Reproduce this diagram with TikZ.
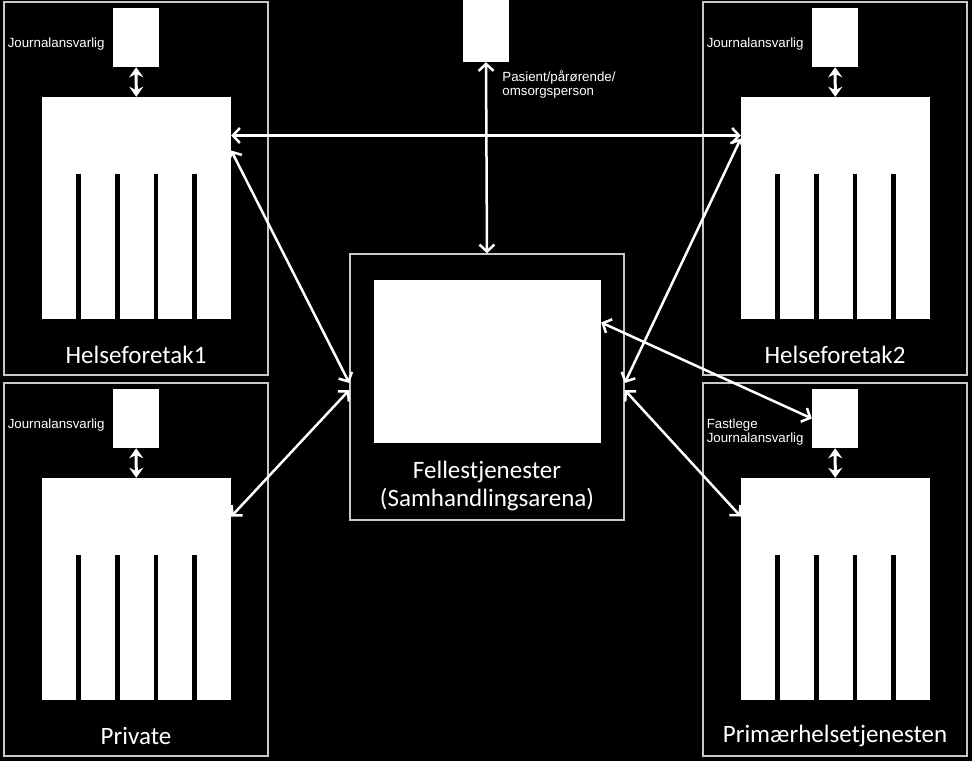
\documentclass[tikz,border=0pt]{standalone}
\usepackage{fontspec}
\setmainfont{Carlito}
\newfontfamily\arialfont{Liberation Sans}
\usetikzlibrary{arrows.meta, positioning}

\definecolor{rammegraa}{RGB}{200,200,200}

\tikzset{
  ramme/.style={draw=rammegraa, line width=1.5pt, inner sep=0pt},
  hvit/.style={fill=white, draw=none, inner sep=0pt},
  pil/.style={white, line width=2.5pt,
    {Straight Barb[length=7pt,width=15pt]}-{Straight Barb[length=7pt,width=15pt]}},
  kortpil/.style={white, line width=3pt,
    {Stealth[length=10pt,width=14pt]}-{Stealth[length=10pt,width=14pt]}},
  tittel/.style={text=white, inner sep=0pt, font=\fontsize{25}{28}\selectfont},
  liten/.style={text=white, inner sep=0pt, align=left, font=\arialfont\fontsize{13.3}{14}\selectfont}
}

% en journalenhet: ramme, journalansvarlig, journal med kolonner, navn
\newcommand{\journalenhet}[5]{%
\begin{scope}[shift={(#2,#3)}]
  \node[ramme, minimum width=264pt, minimum height=373pt] (#1) at (136,188.5) {};
  \node[hvit, minimum width=46pt, minimum height=59pt] (#1jour) at (136,37.5) {};
  \node[liten, anchor=north east] (#1tekst) at ([xshift=-8pt]#1jour.west) {#4};
  \node[hvit, minimum width=189pt, minimum height=77pt] (#1topp) at (136.5,135.5) {};
  \foreach \k in {0,...,4}
    \fill[white] (42+\k*38.8,170) rectangle ++(34,149);
  \node[tittel] (#1navn) at (136,355) {#5};
  \draw[kortpil] (#1jour) -- (#1topp);
\end{scope}}

\begin{document}
\begin{tikzpicture}[x=1pt, y=-1pt]
\fill[black] (0,0) rectangle (972,761);
\useasboundingbox (0,0) rectangle (972,761);

\journalenhet{hf1}{0}{0}{Journalansvarlig}{Helseforetak1}
\journalenhet{priv}{0}{381}{Journalansvarlig}{Private}
\journalenhet{hf2}{699}{0}{Journalansvarlig}{Helseforetak2}
\journalenhet{prim}{699}{381}{Fastlege\\Journalansvarlig}{Primærhelsetjenesten}

% fellestjenester
\node[ramme, minimum width=274pt, minimum height=266pt] (fell) at (487,387) {};
\node[hvit, minimum width=227pt, minimum height=163pt] (fellboks) at (487.5,361.5) {};
\node[tittel, align=center] (felltekst) at (487,486) {Fellestjenester\\(Samhandlingsarena)};

% pasient
\node[hvit, minimum width=46pt, minimum height=62pt] (pasient) at (486,31) {};
\node[liten, anchor=north west] (pasienttekst) at ([xshift=-7pt,yshift=-8pt]pasient.south east)
  {Pasient/pårørende/\\omsorgsperson};

\draw[pil] (hf1topp.east) -- (hf2topp.west);
\draw[pil] ([yshift=-15pt]hf1topp.east) -- ([yshift=4pt]fell.west);
\draw[pil] (privtopp.east) -- ([yshift=-3pt]fell.west);
\draw[pil] ([yshift=-3pt]hf2topp.west) -- ([yshift=4pt]fell.east);
\draw[pil] ([yshift=39pt]fellboks.east) -- (primjour.west);
\draw[pil] ([yshift=-3pt]fell.east) -- (primtopp.west);
\draw[pil] (pasient.south) -- (fell.north);
\end{tikzpicture}
\end{document}
